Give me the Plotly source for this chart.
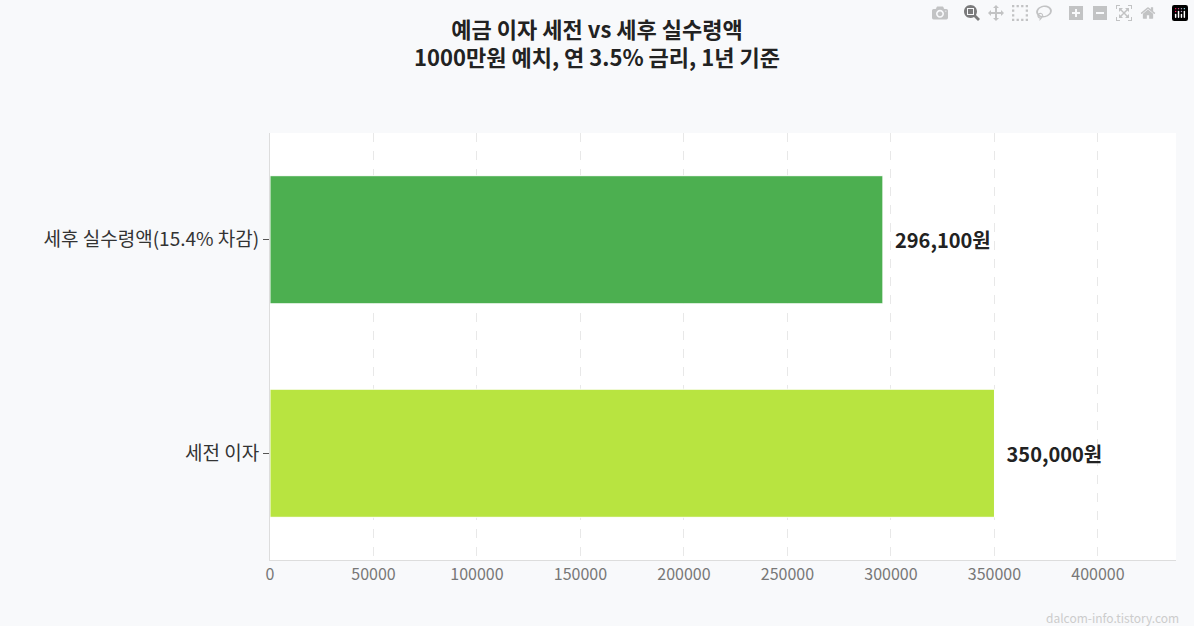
import plotly.graph_objects as go

categories = ["세전 이자", "세후 실수령액(15.4% 차감)"]
values = [350000, 296100]
labels = ["  350,000원", "  296,100원"]
colors = ["#b8e440", "#4caf50"]

fig = go.Figure(go.Bar(
    y=categories, x=values, orientation="h", width=0.6,
    marker=dict(color=colors, line=dict(color="white", width=1)),
    text=labels, textposition="outside", cliponaxis=False,
    textfont=dict(size=20, color="#222", family="Noto Sans CJK KR", weight="bold"),
))
fig.update_layout(
    width=1194, height=626,
    paper_bgcolor="#f8f9fb", plot_bgcolor="white",
    margin=dict(l=270, r=18, t=133, b=66),
    font=dict(family="Noto Sans CJK KR", color="#333"),
    title=dict(text="예금 이자 세전 vs 세후 실수령액<br>1000만원 예치, 연 3.5% 금리, 1년 기준",
               x=0.5, xanchor="center", yref="container", y=0.94, yanchor="middle",
               font=dict(size=22, color="#222", weight="bold")),
    showlegend=False,
)
fig.update_xaxes(range=[0, 437700], dtick=50000, tickformat="d", showgrid=True,
                 gridcolor="#e8e8e8", griddash="dash", zeroline=False,
                 showline=True, linecolor="#ddd", tickfont=dict(size=16, color="#777"))
fig.update_yaxes(ticks="outside", ticklen=6, tickcolor="#555", showline=True, linecolor="#ddd",
                 tickfont=dict(size=19, color="#333"))
fig.add_annotation(text="dalcom-info.tistory.com", xref="paper", yref="paper", x=1.005, y=-0.135,
                   xanchor="right", yanchor="middle", showarrow=False, font=dict(size=12, color="#ccc"))
fig.write_html("out.html")
with open("out.html", encoding="utf-8") as f:
    html = f.read()
html = html.replace("<body>", "<body style=\"margin:0\">", 1)
with open("out.html", "w", encoding="utf-8") as f:
    f.write(html)
